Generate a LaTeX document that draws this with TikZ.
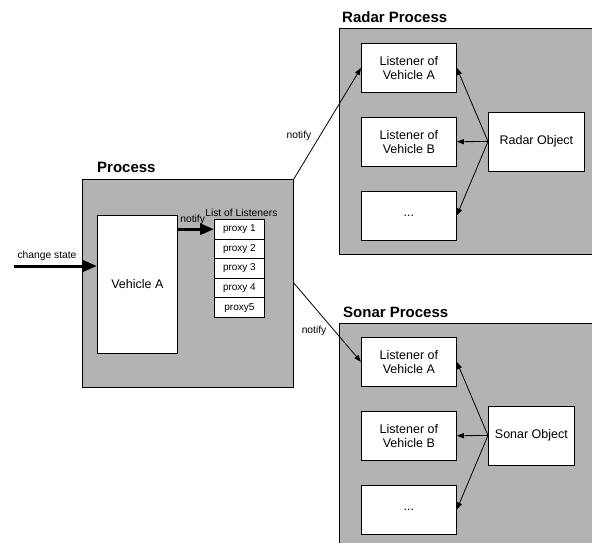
\documentclass[tikz,border=0pt]{standalone}
\usepackage{fontspec}
\setmainfont{Liberation Sans}
\usepackage{tikz}
\usetikzlibrary{arrows.meta,positioning}
\definecolor{procgray}{RGB}{179,179,179}
\tikzstyle{process} = [rectangle, draw, fill=procgray, line width=0.8pt, anchor=north west]
\tikzstyle{block} = [rectangle, draw, fill=white, line width=0.8pt, align=center, font=\fontsize{12.5}{14}\selectfont]
\tikzstyle{proxy} = [rectangle, draw, fill=white, line width=0.8pt, minimum width=50pt, minimum height=19.6pt, inner sep=0pt, font=\fontsize{10}{12}\selectfont]
\tikzstyle{listener} = [block, minimum width=95pt, minimum height=49pt, inner sep=0pt]
\tikzstyle{title} = [anchor=base west, inner sep=0pt, font=\fontsize{15}{18}\selectfont\bfseries]
\tikzstyle{label} = [font=\fontsize{10.3}{12}\selectfont]
\tikzstyle{bigarrow} = [line width=3pt, -{Triangle[length=14pt,width=11pt]}]
\tikzstyle{smallarrow} = [line width=0.8pt, -{Triangle[length=7pt,width=5pt]}]

\begin{document}
\begin{tikzpicture}[x=1pt,y=-1pt]
    \clip (0,0) rectangle (592,542);
    \fill[white] (0,0) rectangle (592,542);

    % process boxes
    \node [process, minimum width=211pt, minimum height=208pt] (process) at (82,179) {};
    \node [process, minimum width=270pt, minimum height=226pt] (radar) at (339,28) {};
    \node [process, minimum width=270pt, minimum height=240pt] (sonar) at (339,323) {};
    \node [title] (processtitle) at ([xshift=15pt,yshift=7pt]process.north west) {Process};
    \node [title] (radartitle) at ([xshift=3pt,yshift=6pt]radar.north west) {Radar Process};
    \node [title] (sonartitle) at ([xshift=4pt,yshift=6pt]sonar.north west) {Sonar Process};

    \node [block, minimum width=80pt, minimum height=138pt, anchor=north west] (vehicle) at (97,215) {Vehicle A};
    \node [proxy, anchor=north west] (proxy1) at (214,219) {proxy 1};
    \node [proxy, below=-0.8pt of proxy1] (proxy2) {proxy 2};
    \node [proxy, below=-0.8pt of proxy2] (proxy3) {proxy 3};
    \node [proxy, below=-0.8pt of proxy3] (proxy4) {proxy 4};
    \node [proxy, below=-0.8pt of proxy4] (proxy5) {proxy5};
    \node [label, above=-1pt of proxy1, xshift=2pt] (listtitle) {List of Listeners};

    \node [listener, anchor=north west] (radarA) at (361,43) {Listener of\\Vehicle A};
    \node [listener, below=24pt of radarA] (radarB) {Listener of\\Vehicle B};
    \node [listener, below=24pt of radarB] (radardots) {...};
    \node [block, minimum width=96pt, minimum height=59pt, anchor=west] (radarobj) at (488,141.5) {Radar Object};

    \node [listener, anchor=north west] (sonarA) at (361,337) {Listener of\\Vehicle A};
    \node [listener, below=24pt of sonarA] (sonarB) {Listener of\\Vehicle B};
    \node [listener, below=24pt of sonarB] (sonardots) {...};
    \node [block, minimum width=86pt, minimum height=59pt, anchor=west] (sonarobj) at (488,435.5) {Sonar Object};

    \coordinate (input) at (14,266);

    \draw[bigarrow](input) -- node[label, pos=0, anchor=south west, inner sep=2pt, yshift=2pt]{change state}(input -| vehicle.west);
    \draw[bigarrow](vehicle.east |- proxy1) -- node[label, pos=0, anchor=south west, inner sep=1pt, yshift=2pt]{notify}(proxy1.west);

    \draw[smallarrow](process.north east) -- node[label, pos=0.39, left=5pt]{notify}(radarA.west);
    \draw[smallarrow]([yshift=-104pt]process.north east) -- node[label, pos=0.6, left=4pt]{notify}(sonarA.west);

    \draw[smallarrow](radarobj.west) -- (radarA.east);
    \draw[smallarrow](radarobj.west) -- (radarB.east);
    \draw[smallarrow](radarobj.west) -- (radardots.east);
    \draw[smallarrow](sonarobj.west) -- (sonarA.east);
    \draw[smallarrow](sonarobj.west) -- (sonarB.east);
    \draw[smallarrow](sonarobj.west) -- (sonardots.east);
\end{tikzpicture}
\end{document}
